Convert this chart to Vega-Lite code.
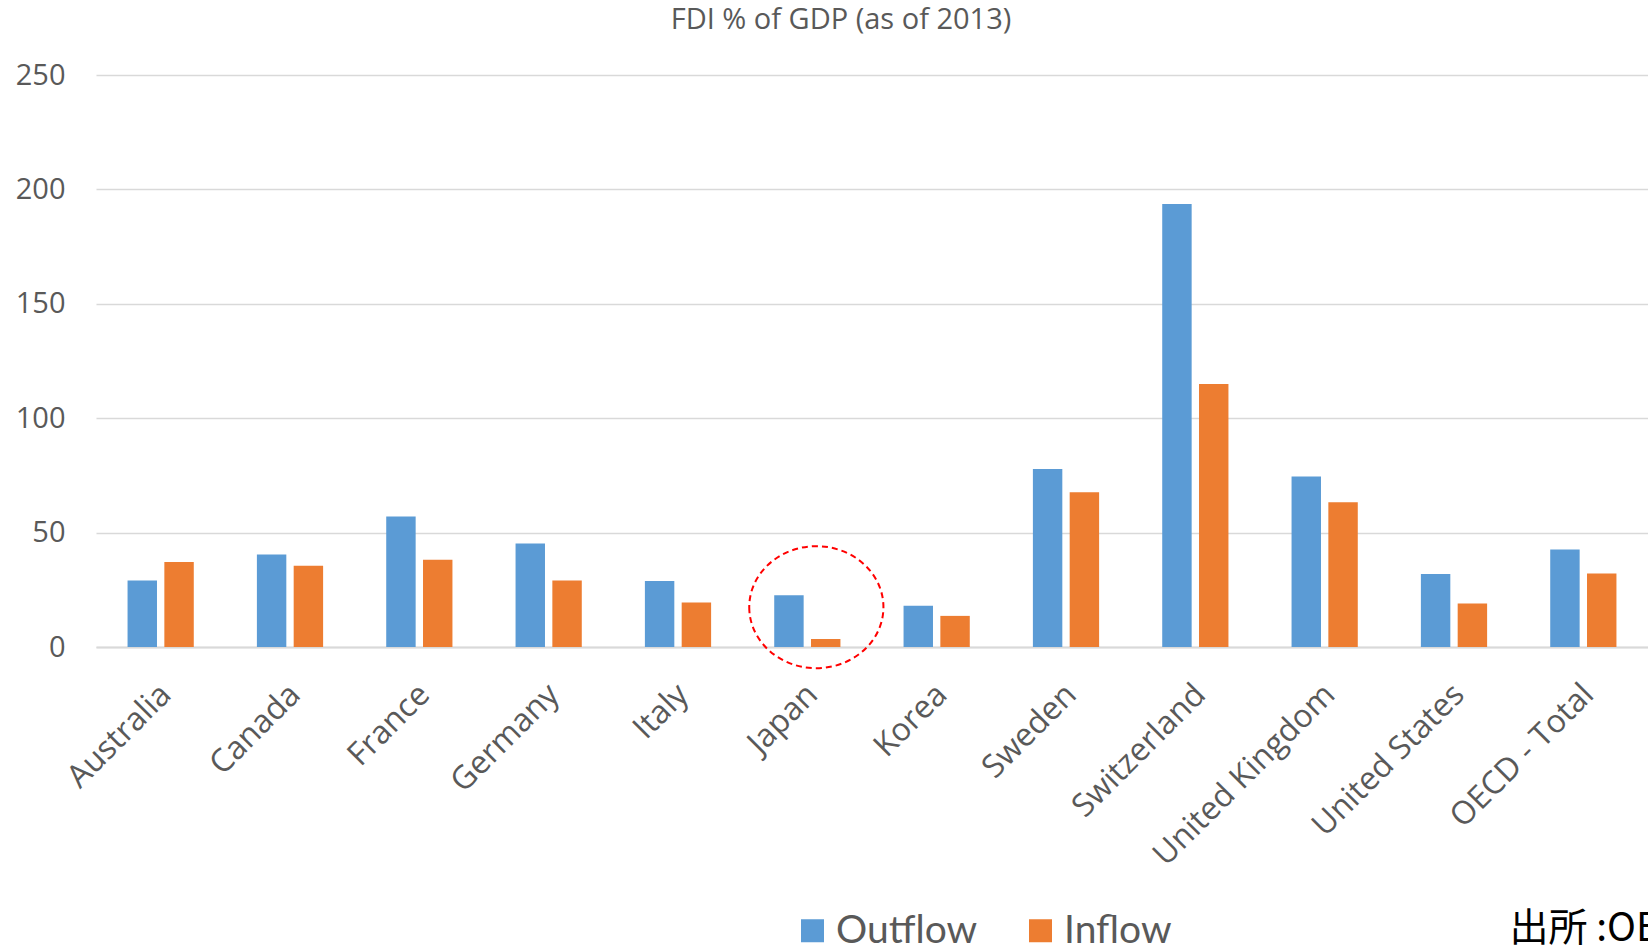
{
  "$schema": "https://vega.github.io/schema/vega-lite/v6.json",
  "autosize": {"type": "none"},
  "width": 1552,
  "height": 572,
  "padding": {"left": 96, "top": 75, "right": 0, "bottom": 300},
  "background": "white",
  "config": {"view": {"stroke": null}, "font": "Open Sans"},
  "title": {
    "text": "FDI % of GDP (as of 2013)",
    "fontSize": 29,
    "font": "Open Sans",
    "fontWeight": "normal",
    "color": "#595959",
    "anchor": "middle",
    "dx": -31,
    "offset": 26
  },
  "datasets": {
    "fdi": [
      {"country": "Australia", "flow": "Outflow", "value": 29.1},
      {"country": "Australia", "flow": "Inflow", "value": 37.1},
      {"country": "Canada", "flow": "Outflow", "value": 40.4},
      {"country": "Canada", "flow": "Inflow", "value": 35.5},
      {"country": "France", "flow": "Outflow", "value": 57.0},
      {"country": "France", "flow": "Inflow", "value": 38.1},
      {"country": "Germany", "flow": "Outflow", "value": 45.2},
      {"country": "Germany", "flow": "Inflow", "value": 29.1},
      {"country": "Italy", "flow": "Outflow", "value": 28.9},
      {"country": "Italy", "flow": "Inflow", "value": 19.4},
      {"country": "Japan", "flow": "Outflow", "value": 22.6},
      {"country": "Japan", "flow": "Inflow", "value": 3.5},
      {"country": "Korea", "flow": "Outflow", "value": 18.0},
      {"country": "Korea", "flow": "Inflow", "value": 13.6},
      {"country": "Sweden", "flow": "Outflow", "value": 77.8},
      {"country": "Sweden", "flow": "Inflow", "value": 67.6},
      {"country": "Switzerland", "flow": "Outflow", "value": 193.6},
      {"country": "Switzerland", "flow": "Inflow", "value": 114.9},
      {"country": "United Kingdom", "flow": "Outflow", "value": 74.5},
      {"country": "United Kingdom", "flow": "Inflow", "value": 63.3},
      {"country": "United States", "flow": "Outflow", "value": 31.9},
      {"country": "United States", "flow": "Inflow", "value": 19.0},
      {"country": "OECD - Total", "flow": "Outflow", "value": 42.6},
      {"country": "OECD - Total", "flow": "Inflow", "value": 32.1}
    ],
    "note": [
      {"country": "Japan", "value": 17.4}
    ]
  },
  "layer": [
    {
      "data": {"name": "fdi"},
      "mark": {"type": "bar"},
      "encoding": {
        "x": {
          "field": "country",
          "type": "nominal",
          "sort": null,
          "scale": {"paddingInner": 0.488, "paddingOuter": 0.244},
          "axis": {
            "title": "出所 :OECD",
            "titleFont": "Noto Sans CJK JP",
            "titleFontSize": 39,
            "titleFontWeight": "normal",
            "titleColor": "#000000",
            "titleX": 1413,
            "titleY": 293,
            "titleAlign": "left",
            "titleBaseline": "alphabetic",
            "titleAngle": 0,
            "labelAngle": -45,
            "labelAlign": "right",
            "labelBaseline": "middle",
            "labelFont": "Open Sans",
            "labelFontSize": 32,
            "labelColor": "#595959",
            "labelPadding": 42,
            "labelOffset": 5,
            "labelLimit": 500,
            "ticks": false,
            "grid": false,
            "domainColor": "#D9D9D9",
            "domainWidth": 2
          }
        },
        "xOffset": {
          "field": "flow",
          "type": "nominal",
          "sort": ["Outflow", "Inflow"],
          "scale": {"paddingInner": 0.2}
        },
        "y": {
          "field": "value",
          "type": "quantitative",
          "scale": {"domain": [0, 250], "nice": false},
          "axis": {
            "title": null,
            "values": [0, 50, 100, 150, 200, 250],
            "grid": true,
            "gridColor": "#D9D9D9",
            "gridWidth": 1.3,
            "domain": false,
            "ticks": false,
            "labelFont": "Open Sans",
            "labelFontSize": 29,
            "labelColor": "#595959",
            "labelPadding": 31
          }
        },
        "color": {
          "field": "flow",
          "type": "nominal",
          "sort": ["Outflow", "Inflow"],
          "scale": {"domain": ["Outflow", "Inflow"], "range": ["#5B9BD5", "#ED7D31"]},
          "legend": {
            "orient": "none",
            "legendX": 697,
            "legendY": 836,
            "direction": "horizontal",
            "title": null,
            "symbolType": "square",
            "symbolSize": 529,
            "symbolStrokeWidth": 0,
            "symbolOpacity": 1,
            "labelFont": "Lato",
            "labelFontSize": 39,
            "labelColor": "#595959",
            "labelOffset": 4,
            "columnPadding": 43,
            "labelLimit": 400
          }
        }
      }
    },
    {
      "data": {"name": "note"},
      "mark": {
        "type": "point",
        "shape": "M -1.1 0 A 1.1 1 0 1 0 1.1 0 A 1.1 1 0 1 0 -1.1 0 Z",
        "size": 14884,
        "filled": false,
        "opacity": 1,
        "xOffset": 9,
        "stroke": "#FF0000",
        "strokeWidth": 2,
        "strokeDash": [6, 4]
      },
      "encoding": {
        "x": {"field": "country", "type": "nominal", "sort": null},
        "y": {"field": "value", "type": "quantitative"}
      }
    }
  ]
}
